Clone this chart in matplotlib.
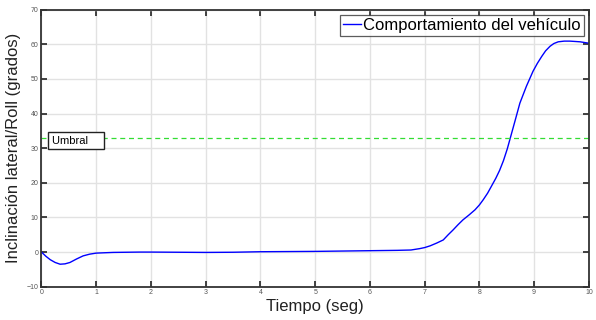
import matplotlib
matplotlib.use('Agg')
import matplotlib.pyplot as plt
import numpy as np

plt.rcParams['font.family'] = ['Liberation Sans', 'DejaVu Sans']

# roll angle of the vehicle over time
t = [0, 0.08, 0.16, 0.25, 0.34, 0.43, 0.52, 0.64, 0.76, 0.88, 1.0, 1.15, 1.31, 1.55,
     1.8, 2.0, 2.5, 3.0, 3.5, 4.0, 4.5, 5.0, 5.5, 6.0, 6.5, 6.75, 6.91, 7.0, 7.1,
     7.22, 7.34, 7.43, 7.52, 7.61, 7.7, 7.81, 7.92, 8.0, 8.07, 8.15, 8.22, 8.3,
     8.37, 8.44, 8.51, 8.58, 8.65, 8.74, 8.86, 8.98, 9.06, 9.14, 9.21, 9.29, 9.36,
     9.44, 9.55, 9.65, 9.75, 9.84, 9.92, 10.0]
roll = [0, -1.2, -2.2, -3.0, -3.5, -3.4, -3.0, -2.0, -1.1, -0.6, -0.3, -0.2, -0.1,
        -0.05, 0.0, 0.0, -0.05, -0.1, -0.05, 0.1, 0.15, 0.2, 0.3, 0.4, 0.5, 0.6, 1.0,
        1.3, 1.8, 2.6, 3.5, 5.0, 6.4, 7.9, 9.3, 10.7, 12.2, 13.6, 15.1, 17.0, 19.0,
        21.3, 23.6, 26.4, 29.8, 33.8, 37.8, 43.0, 47.9, 52.2, 54.5, 56.5, 58.1, 59.4,
        60.2, 60.7, 60.9, 60.9, 60.8, 60.7, 60.5, 60.3]

umbral = 33

fig = plt.figure(figsize=(5.96, 3.2), dpi=100)
ax = fig.add_axes([0.0696, 0.104, 0.9184, 0.866])

ax.plot(t, roll, color='blue', lw=1.0, label='Comportamiento del vehículo')
ax.axhline(umbral, color='#33dd33', ls=(0, (4, 3)), lw=0.9)

ax.set_xlim(0, 10)
ax.set_ylim(-10, 70)
ax.set_xticks(np.arange(0, 11, 1))
ax.set_yticks(np.arange(-10, 71, 10))
ax.grid(True, color='#e2e2e2', lw=1.0)
ax.set_axisbelow(True)

ax.tick_params(direction='in', length=4, width=1.2, color='#222222',
               labelsize=5, labelcolor='#555555', top=True, right=True, pad=2)
for s in ax.spines.values():
    s.set_color('#333333')
    s.set_linewidth(1.3)

ax.set_xlabel('Tiempo (seg)', fontsize=12, labelpad=2, color='#222222')
ax.set_ylabel('Inclinación lateral/Roll (grados)', fontsize=12, labelpad=4, color='#222222')

leg = ax.legend(loc='upper right', fontsize=12, frameon=True, fancybox=False,
                handlelength=1.1, handletextpad=0.1, borderpad=0.2,
                borderaxespad=0.3)
leg.get_frame().set_edgecolor('#333333')
leg.get_frame().set_linewidth(0.9)

ax.text(0.19, 32.2, 'Umbral    ', fontsize=8, va='center', ha='left',
        bbox=dict(boxstyle='square,pad=0.35', fc='white', ec='#222222', lw=1.0))

fig.savefig('out.png', dpi=100)
